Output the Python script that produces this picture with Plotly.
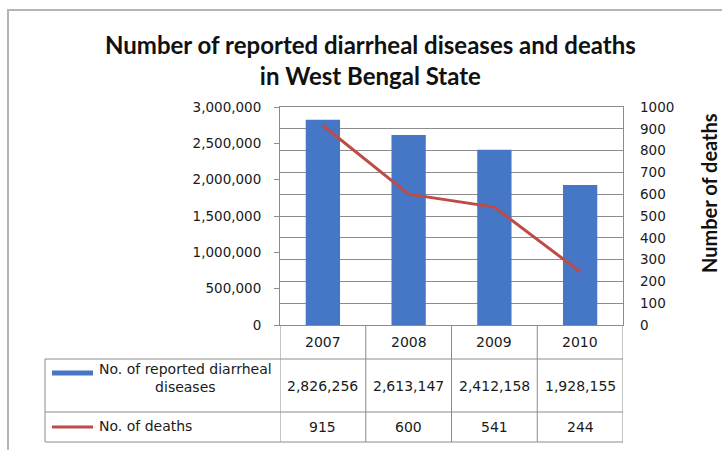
import plotly.graph_objects as go

# Data
years = ["2007", "2008", "2009", "2010"]
cases = [2826256, 2613147, 2412158, 1928155]
deaths = [915, 600, 541, 244]
case_label = "No. of reported diarrheal<br>diseases"
death_label = "No. of deaths"
left_ticks = [0, 500000, 1000000, 1500000, 2000000, 2500000, 3000000]
right_ticks = list(range(0, 1001, 100))

W, H = 722, 450
L, R, T, B = 280, 623, 107, 325  # plot area in pixels

BAR_COLOR = "#4677c6"
LINE_COLOR = "#be4b48"
GRID = "#8c8c8c"
TXT = "#1a1a1a"
FONT = "DejaVu Sans"


def px(x):
    return (x - L) / (R - L)


def py(y):
    return (B - y) / (B - T)


fig = go.Figure()
fig.add_trace(go.Bar(x=years, y=cases, marker=dict(color=BAR_COLOR, line=dict(width=0)),
                     name="cases", yaxis="y"))
fig.add_trace(go.Scatter(x=years, y=deaths, mode="lines", line=dict(color=LINE_COLOR, width=3),
                         name="deaths", yaxis="y2"))

shapes = []
ann = []

# outer chart frame (top and left edges visible)
shapes.append(dict(type="rect", xref="paper", yref="paper", x0=px(8), x1=px(740), y0=py(470), y1=py(10),
                   line=dict(color="#b4b4b4", width=2), layer="below"))

# data table grid
line = dict(color=GRID, width=1)
for yy in [359, 412, 442]:
    shapes.append(dict(type="line", xref="paper", yref="paper", x0=px(45), x1=px(R), y0=py(yy), y1=py(yy), line=line))
shapes.append(dict(type="line", xref="paper", yref="paper", x0=px(45), x1=px(45), y0=py(359), y1=py(442), line=line))
for i in range(len(years) + 1):
    shapes.append(dict(type="line", xref="x", yref="paper", x0=i - 0.5, x1=i - 0.5, y0=py(B), y1=py(442), line=line))

# legend keys inside the table
shapes.append(dict(type="line", xref="paper", yref="paper", x0=px(52), x1=px(93), y0=py(373), y1=py(373),
                   line=dict(color=BAR_COLOR, width=5)))
shapes.append(dict(type="line", xref="paper", yref="paper", x0=px(52), x1=px(93), y0=py(427), y1=py(427),
                   line=dict(color=LINE_COLOR, width=3)))

cell_font = dict(family=FONT, size=14, color=TXT)
ann.append(dict(text=case_label, xref="paper", yref="paper", x=px(185), y=py(378), xanchor="center",
                yanchor="middle", showarrow=False, font=cell_font, align="center"))
ann.append(dict(text=death_label, xref="paper", yref="paper", x=px(97), y=py(426), xanchor="left",
                yanchor="middle", showarrow=False, font=cell_font))
for i, yr in enumerate(years):
    for txt, yy in [(yr, 342), (f"{cases[i]:,}", 386), (f"{deaths[i]}", 427)]:
        ann.append(dict(text=txt, xref="x", yref="paper", x=i, y=py(yy), xanchor="center",
                        yanchor="middle", showarrow=False, font=cell_font))

# title and right axis title
ann.append(dict(text="Number of reported diarrheal diseases and deaths<br>in West Bengal State",
                xref="paper", yref="paper", x=px(370), y=py(60), xanchor="center", yanchor="middle",
                showarrow=False, font=dict(family="Lato", size=24, color="#111111", weight="bold")))
ann.append(dict(text="Number of deaths", xref="paper", yref="paper", x=px(709), y=py(193), textangle=-90,
                xanchor="center", yanchor="middle", showarrow=False,
                font=dict(family="Lato", size=20, color="#111111", weight="bold")))

fig.update_layout(
    width=W, height=H,
    margin=dict(l=L, r=W - R, t=T, b=H - B),
    paper_bgcolor="white", plot_bgcolor="white",
    showlegend=False, bargap=0.6,
    shapes=shapes, annotations=ann,
    xaxis=dict(type="category", range=[-0.5, 3.5], showticklabels=False, showgrid=False, ticks="",
               showline=True, linecolor=GRID, mirror=True, zeroline=False),
    yaxis=dict(range=[0, 3000000], tickvals=left_ticks, tickformat=",d", showgrid=False,
               ticks="outside", ticklen=5, tickcolor=GRID, showline=True, linecolor=GRID, mirror=True,
               zeroline=False, ticklabelstandoff=10, tickfont=dict(family=FONT, size=13.5, color=TXT)),
    yaxis2=dict(range=[0, 1000], tickvals=right_ticks, overlaying="y", side="right", showgrid=True,
                gridcolor=GRID, gridwidth=1, ticks="", showline=False, zeroline=False,
                ticklabelstandoff=16, tickfont=dict(family=FONT, size=13.5, color=TXT)),
)

fig.write_html("out.html")
